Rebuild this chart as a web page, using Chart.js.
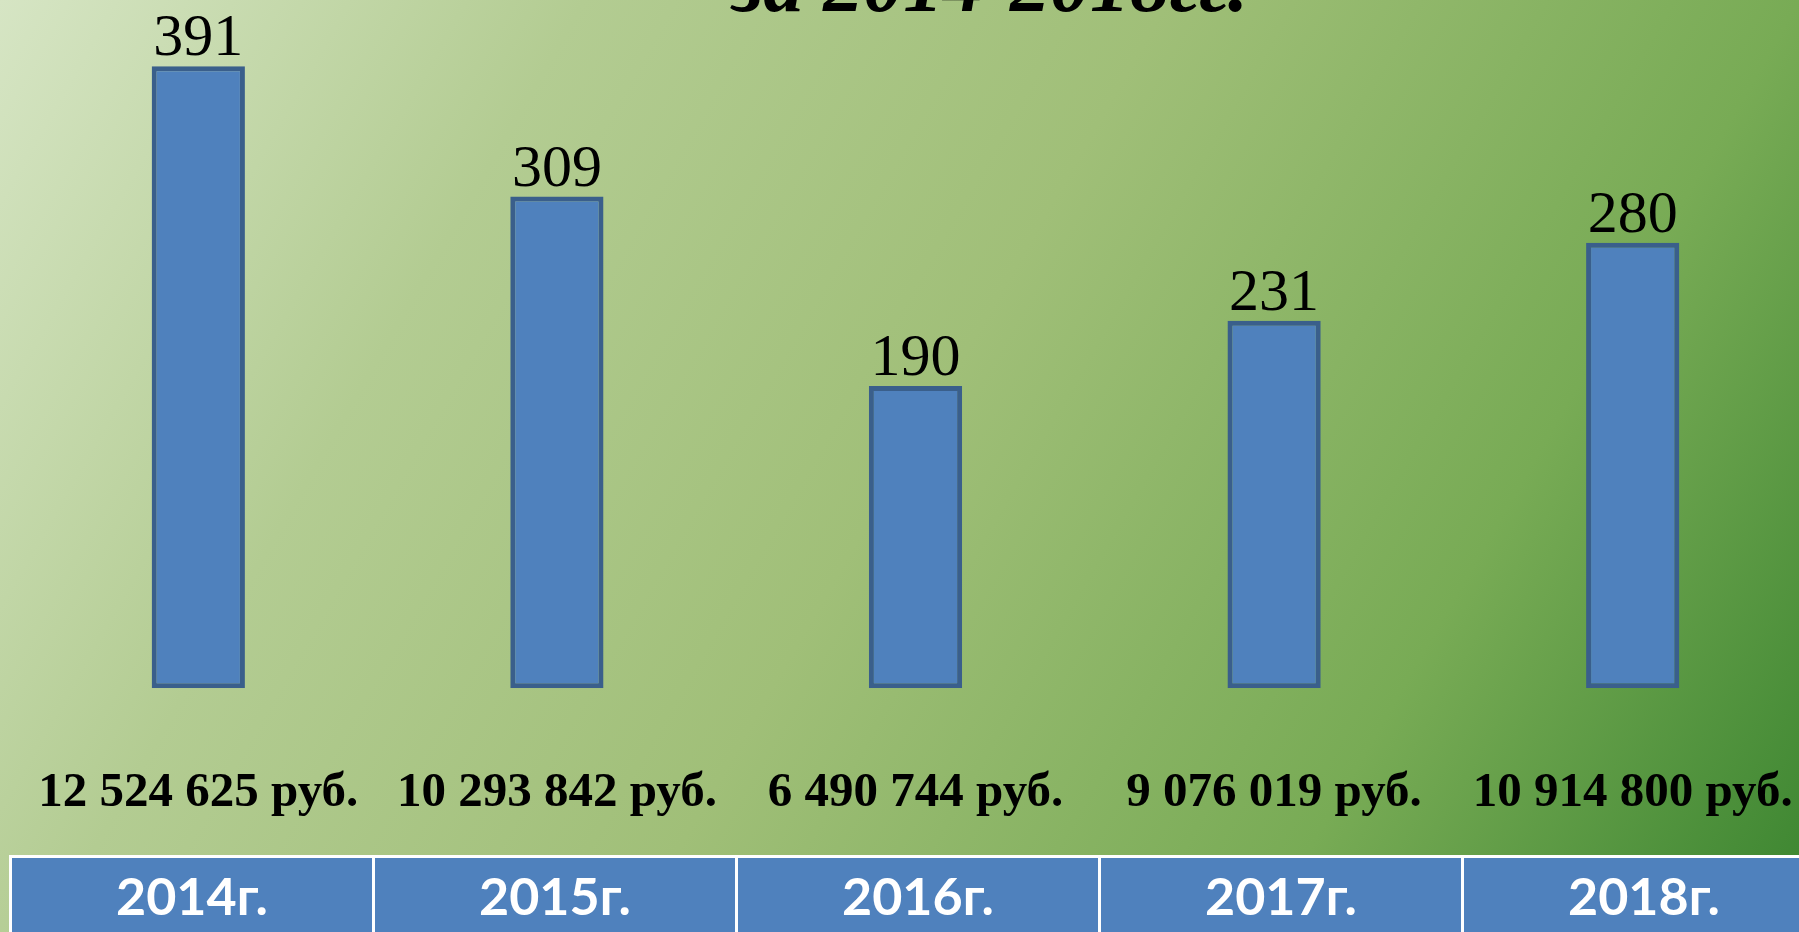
<!DOCTYPE html>
<html lang="ru">
<head>
    <meta charset="UTF-8">
    <title>Количество и сумма за 2014-2018гг.</title>
    <script src="https://cdn.jsdelivr.net/npm/chart.js"></script>
    <style>
        html, body {
            margin: 0;
            padding: 0;
            width: 1799px;
            height: 932px;
            overflow: hidden;
        }
        body {
            position: relative;
            background: linear-gradient(120deg, #d6e5c4 0%, #b3cc92 25%, #a0bf78 50%, #78ab55 77%, #3b8530 100%);
        }
        .chart-box {
            position: absolute;
            left: 0;
            top: 0;
            width: 1830px;
            height: 932px;
        }
        .years {
            position: absolute;
            left: 9px;
            top: 855px;
            display: flex;
            border-top: 3px solid #fff;
        }
        .years div {
            width: 360px;
            height: 80px;
            background: #4f81bd;
            border-left: 3px solid #fff;
            color: #fff;
            font: bold 52px Lato, "Open Sans", sans-serif;
            line-height: 74px;
            text-align: center;
        }
    </style>
</head>
<body>

    <div class="chart-box">
        <canvas id="chart"></canvas>
    </div>
    <div class="years" id="years"></div>

    <script>
        // данные со слайда
        const years = ['2014г.', '2015г.', '2016г.', '2017г.', '2018г.'];
        const amounts = ['12 524 625 руб.', '10 293 842 руб.', '6 490 744 руб.', '9 076 019 руб.', '10 914 800 руб.'];
        const counts = [391, 309, 190, 231, 280];

        // строка с годами
        const yearsRow = document.getElementById('years');
        years.forEach(y => {
            const cell = document.createElement('div');
            cell.textContent = y;
            yearsRow.appendChild(cell);
        });

        // подписи значений над столбцами + обрезанный заголовок
        const valueLabels = {
            id: 'valueLabels',
            afterDatasetsDraw(chart) {
                const ctx = chart.ctx;
                ctx.save();
                ctx.fillStyle = '#000';
                ctx.textAlign = 'center';
                ctx.textBaseline = 'alphabetic';
                ctx.font = '60px "Liberation Serif", "Times New Roman", serif';
                chart.getDatasetMeta(0).data.forEach((bar, i) => {
                    ctx.fillText(counts[i], bar.x, bar.y - 11);
                });
                ctx.font = 'italic bold 80px "Liberation Serif", "Times New Roman", serif';
                ctx.fillText('за 2014-2018гг.', 990, 11);
                ctx.restore();
            }
        };

        new Chart(document.getElementById('chart'), {
            type: 'bar',
            data: {
                labels: amounts,
                datasets: [{
                    data: counts,
                    backgroundColor: '#4f81bd',
                    borderColor: '#3a5f8b',
                    borderWidth: 5,
                    borderSkipped: false,
                    categoryPercentage: 1,
                    barPercentage: 0.26
                }]
            },
            options: {
                responsive: true,
                maintainAspectRatio: false,
                animation: false,
                layout: {
                    padding: { left: 19, right: 18, top: 20, bottom: 109 }
                },
                plugins: {
                    legend: { display: false },
                    tooltip: { enabled: false }
                },
                scales: {
                    x: {
                        grid: { display: true, drawOnChartArea: false, drawTicks: true, tickLength: 76, color: 'rgba(0,0,0,0)' },
                        border: { display: false },
                        ticks: {
                            padding: 0,
                            color: '#000',
                            maxRotation: 0,
                            autoSkip: false,
                            font: { family: '"Liberation Serif", "Times New Roman", serif', size: 49, weight: 'bold' }
                        }
                    },
                    y: {
                        display: false,
                        min: 0,
                        max: 420
                    }
                }
            },
            plugins: [valueLabels]
        });
    </script>

</body>
</html>
